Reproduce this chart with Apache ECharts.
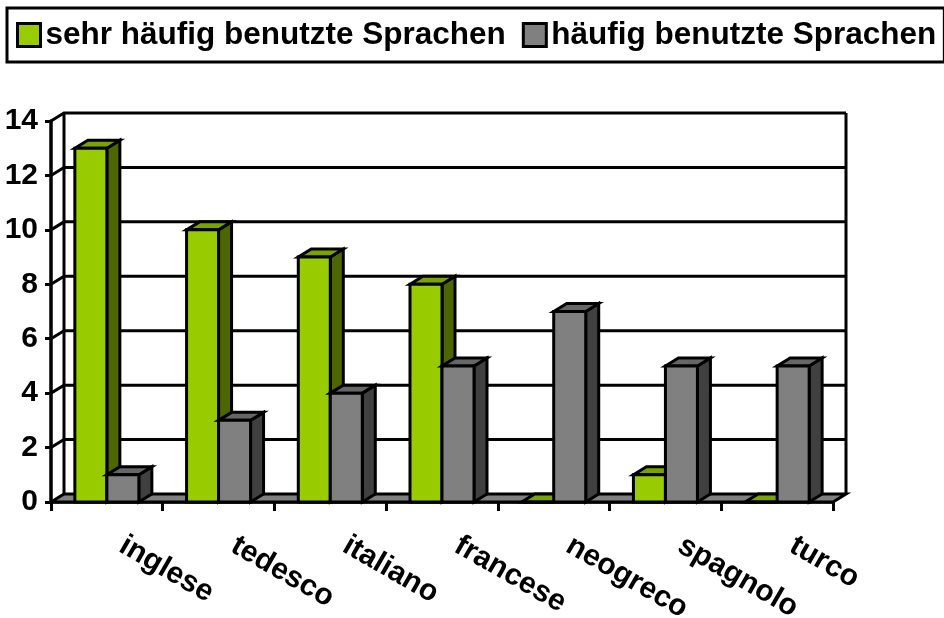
<!DOCTYPE html>
<html>
<head>
<meta charset="utf-8">
<title>Sprachen</title>
<script src="https://cdn.jsdelivr.net/npm/echarts@6/dist/echarts.min.js"></script>
<style>
    html, body { margin: 0; padding: 0; background: #fff; }
    #chart-container { width: 944px; height: 618px; }
</style>
</head>
<body>
<div id="chart-container"></div>
<script>
var categories = ['inglese', 'tedesco', 'italiano', 'francese', 'neogreco', 'spagnolo', 'turco'];
var sehrHaeufig = [13, 10, 9, 8, 0, 1, 0];
var haeufig = [1, 3, 4, 5, 7, 5, 5];
var valueTicks = [0, 2, 4, 6, 8, 10, 12, 14];

var fontName = '"Liberation Sans", Arial, sans-serif';
var depthX = 13;
var depthY = 8;
var barWidth = 32;
var lineW = 3;

// back wall, floor and the grid lines with their slant on the side wall
function renderWall(params, api) {
    var v = api.value(0);
    var band = api.size([1, 0])[0];
    var p = api.coord([0, v]);
    var xLeft = p[0] - band / 2;
    var xRight = api.coord([categories.length - 1, v])[0] + band / 2;
    var y = p[1];
    var children = [];
    var stroke = { stroke: '#000', lineWidth: lineW, fill: null };

    if (v === 0) {
        children.push({
            type: 'polygon',
            shape: { points: [[xLeft, y], [xLeft + depthX, y - depthY], [xRight + depthX, y - depthY], [xRight, y]] },
            style: { fill: '#808080', stroke: '#000', lineWidth: lineW }
        });
        var yTop = api.coord([0, valueTicks[valueTicks.length - 1]])[1];
        children.push({
            type: 'polyline',
            shape: { points: [[xLeft + depthX, y - depthY], [xLeft + depthX, yTop - depthY]] },
            style: stroke
        });
        children.push({
            type: 'polyline',
            shape: { points: [[xRight + depthX, y - depthY], [xRight + depthX, yTop - depthY]] },
            style: stroke
        });
    } else {
        children.push({
            type: 'polyline',
            shape: { points: [[xLeft, y], [xLeft + depthX, y - depthY], [xRight + depthX, y - depthY]] },
            style: stroke
        });
    }
    return { type: 'group', children: children };
}

function makeBarRender(offsetBars, front, top, side) {
    return function (params, api) {
        var idx = api.value(0);
        var val = api.value(1);
        var base = api.coord([idx, 0]);
        var head = api.coord([idx, val]);
        var x0 = base[0] + offsetBars * barWidth;
        var x1 = x0 + barWidth;
        var y0 = base[1];
        var y1 = head[1];
        var outline = { stroke: '#000', lineWidth: lineW, lineJoin: 'miter' };
        return {
            type: 'group',
            children: [{
                type: 'polygon',
                shape: { points: [[x1, y1], [x1 + depthX, y1 - depthY], [x1 + depthX, y0 - depthY], [x1, y0]] },
                style: Object.assign({ fill: side }, outline)
            }, {
                type: 'polygon',
                shape: { points: [[x0, y1], [x0 + depthX, y1 - depthY], [x1 + depthX, y1 - depthY], [x1, y1]] },
                style: Object.assign({ fill: top }, outline)
            }, {
                type: 'polygon',
                shape: { points: [[x0, y0], [x0, y1], [x1, y1], [x1, y0]] },
                style: Object.assign({ fill: front }, outline)
            }]
        };
    };
}

var dom = document.getElementById('chart-container');
var myChart = echarts.init(dom, null, { renderer: 'canvas' });

var option = {
    animation: false,
    backgroundColor: '#fff',
    tooltip: { show: false },
    legend: {
        left: 7,
        top: 8,
        width: 925,
        padding: [11, 8, 11, 9],
        orient: 'horizontal',
        icon: 'rect',
        itemWidth: 23,
        itemHeight: 23,
        itemGap: 16,
        selectedMode: false,
        borderColor: '#000',
        borderWidth: 3,
        data: ['sehr häufig benutzte Sprachen', 'häufig benutzte Sprachen'],
        itemStyle: { borderColor: '#000', borderWidth: 3 },
        textStyle: {
            fontFamily: fontName,
            fontWeight: 'bold',
            fontSize: 31.5,
            color: '#000'
        }
    },
    grid: { left: 51, right: 111, top: 121, bottom: 116, outerBoundsMode: 'none' },
    xAxis: {
        type: 'category',
        data: categories,
        axisLine: { lineStyle: { color: '#000', width: 3.5 } },
        axisTick: { show: true, length: 9, lineStyle: { color: '#000', width: 3 } },
        axisLabel: {
            interval: 0,
            rotate: -30,
            align: 'left',
            verticalAlign: 'middle',
            margin: 33,
            padding: [0, 0, 0, 17],
            fontFamily: fontName,
            fontWeight: 'bold',
            fontSize: 30,
            color: '#000'
        },
        splitLine: { show: false }
    },
    yAxis: {
        type: 'value',
        min: 0,
        max: 14,
        interval: 2,
        axisLine: { show: true, lineStyle: { color: '#000', width: 3.5 } },
        axisTick: { show: true, length: 6, lineStyle: { color: '#000', width: 3 } },
        axisLabel: {
            margin: 13,
            padding: [4, 0, 0, 0],
            fontFamily: fontName,
            fontWeight: 'bold',
            fontSize: 30,
            color: '#000'
        },
        splitLine: { show: false }
    },
    series: [{
        name: 'wall',
        type: 'custom',
        clip: false,
        silent: true,
        z: 1,
        renderItem: renderWall,
        encode: { y: 0 },
        data: valueTicks.map(function (v) { return [v]; })
    }, {
        name: 'sehr häufig benutzte Sprachen',
        type: 'custom',
        clip: false,
        z: 2,
        itemStyle: { color: '#99CC00' },
        renderItem: makeBarRender(-1, '#99CC00', '#7AA300', '#4D6600'),
        encode: { x: 0, y: 1 },
        data: sehrHaeufig.map(function (v, i) { return [i, v]; })
    }, {
        name: 'häufig benutzte Sprachen',
        type: 'custom',
        clip: false,
        z: 3,
        itemStyle: { color: '#808080' },
        renderItem: makeBarRender(0, '#808080', '#666666', '#404040'),
        encode: { x: 0, y: 1 },
        data: haeufig.map(function (v, i) { return [i, v]; })
    }]
};

myChart.setOption(option);
window.addEventListener('resize', myChart.resize);
</script>
</body>
</html>
